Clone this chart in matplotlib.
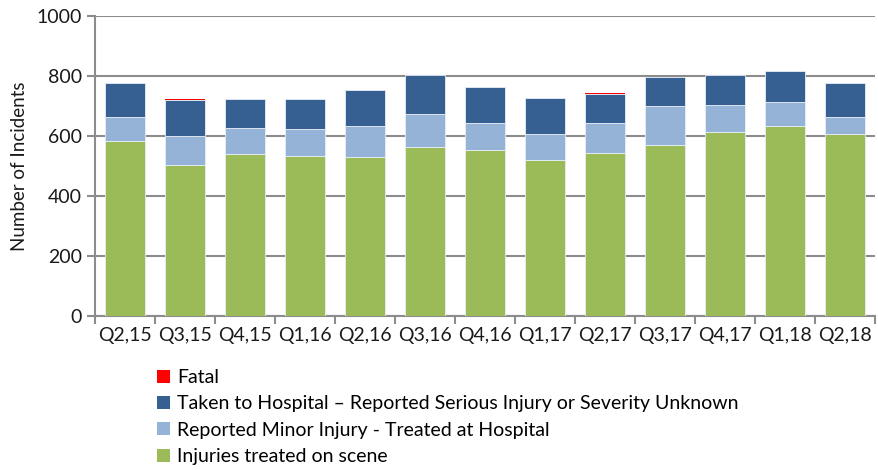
import matplotlib
matplotlib.use("Agg")
import matplotlib.pyplot as plt
import numpy as np
from matplotlib.patches import Patch

categories = ["Q2,15", "Q3,15", "Q4,15", "Q1,16", "Q2,16", "Q3,16", "Q4,16",
              "Q1,17", "Q2,17", "Q3,17", "Q4,17", "Q1,18", "Q2,18"]
on_scene = [582, 503, 541, 533, 530, 562, 554, 521, 544, 569, 615, 632, 606]
minor_hospital = [80, 97, 86, 90, 103, 111, 90, 86, 101, 130, 88, 80, 59]
serious_unknown = [114, 121, 96, 99, 120, 132, 121, 118, 95, 98, 100, 105, 113]
fatal = [0, 1, 0, 0, 0, 0, 0, 0, 2, 0, 2, 0, 0]

labels = ["Fatal",
          "Taken to Hospital \u2013 Reported Serious Injury or Severity Unknown",
          "Reported Minor Injury - Treated at Hospital",
          "Injuries treated on scene"]
colors = {"fatal": "#FF0000", "serious": "#366092", "minor": "#95B3D7", "scene": "#9BBB59"}

plt.rcParams['font.family'] = ['Lato', 'DejaVu Sans']

fig = plt.figure(figsize=(8.79, 4.70), dpi=100)
ax = fig.add_axes([95/879, 154/470, 780/879, 300/470])

x = np.arange(len(categories))
w = 0.667
ec = "#E8EEF6"
b0 = np.zeros(len(categories))
ax.bar(x, on_scene, w, bottom=b0, color=colors["scene"], edgecolor=ec, linewidth=0.6, zorder=3)
b1 = b0 + np.array(on_scene)
ax.bar(x, minor_hospital, w, bottom=b1, color=colors["minor"], edgecolor=ec, linewidth=0.6, zorder=3)
b2 = b1 + np.array(minor_hospital)
ax.bar(x, serious_unknown, w, bottom=b2, color=colors["serious"], edgecolor=ec, linewidth=0.6, zorder=3)
b3 = b2 + np.array(serious_unknown)
ax.bar(x, fatal, w, bottom=b3, color=colors["fatal"], linewidth=0, zorder=4)

ax.set_xlim(-0.5, len(categories) - 0.5)
ax.set_ylim(0, 1000)
ax.set_yticks(np.arange(0, 1001, 200))
ax.yaxis.grid(True, color="#8C8C8C", linewidth=1.5, zorder=0)
ax.set_axisbelow(True)

ax.set_xticks(x)
ax.set_xticklabels(categories, fontsize=14, color="#1a1a1a")
ax.set_xticks(np.arange(-0.5, len(categories) + 0.5, 1), minor=True)
ax.tick_params(axis='x', which='major', length=0, pad=8)
ax.tick_params(axis='x', which='minor', length=6, width=1.5, color="#8C8C8C", direction='out')
ax.tick_params(axis='y', labelsize=14, length=6, width=1.5, color="#8C8C8C", labelcolor="#1a1a1a")

for s in ["top", "right"]:
    ax.spines[s].set_visible(False)
for s in ["left", "bottom"]:
    ax.spines[s].set_color("#8C8C8C")
    ax.spines[s].set_linewidth(1.5)

ax.set_ylabel("Number of Incidents", fontsize=13.5, color="#1a1a1a", labelpad=6)

handles = [Patch(facecolor=colors["fatal"]), Patch(facecolor=colors["serious"]),
           Patch(facecolor=colors["minor"]), Patch(facecolor=colors["scene"])]
fig.legend(handles, labels, loc="upper left", bbox_to_anchor=(157/879, 1 - 369/470),
           frameon=False, fontsize=14, handlelength=0.65, handleheight=0.65,
           handletextpad=0.4, labelspacing=0.48, borderaxespad=0, borderpad=0)

fig.savefig("out.png", dpi=100)
